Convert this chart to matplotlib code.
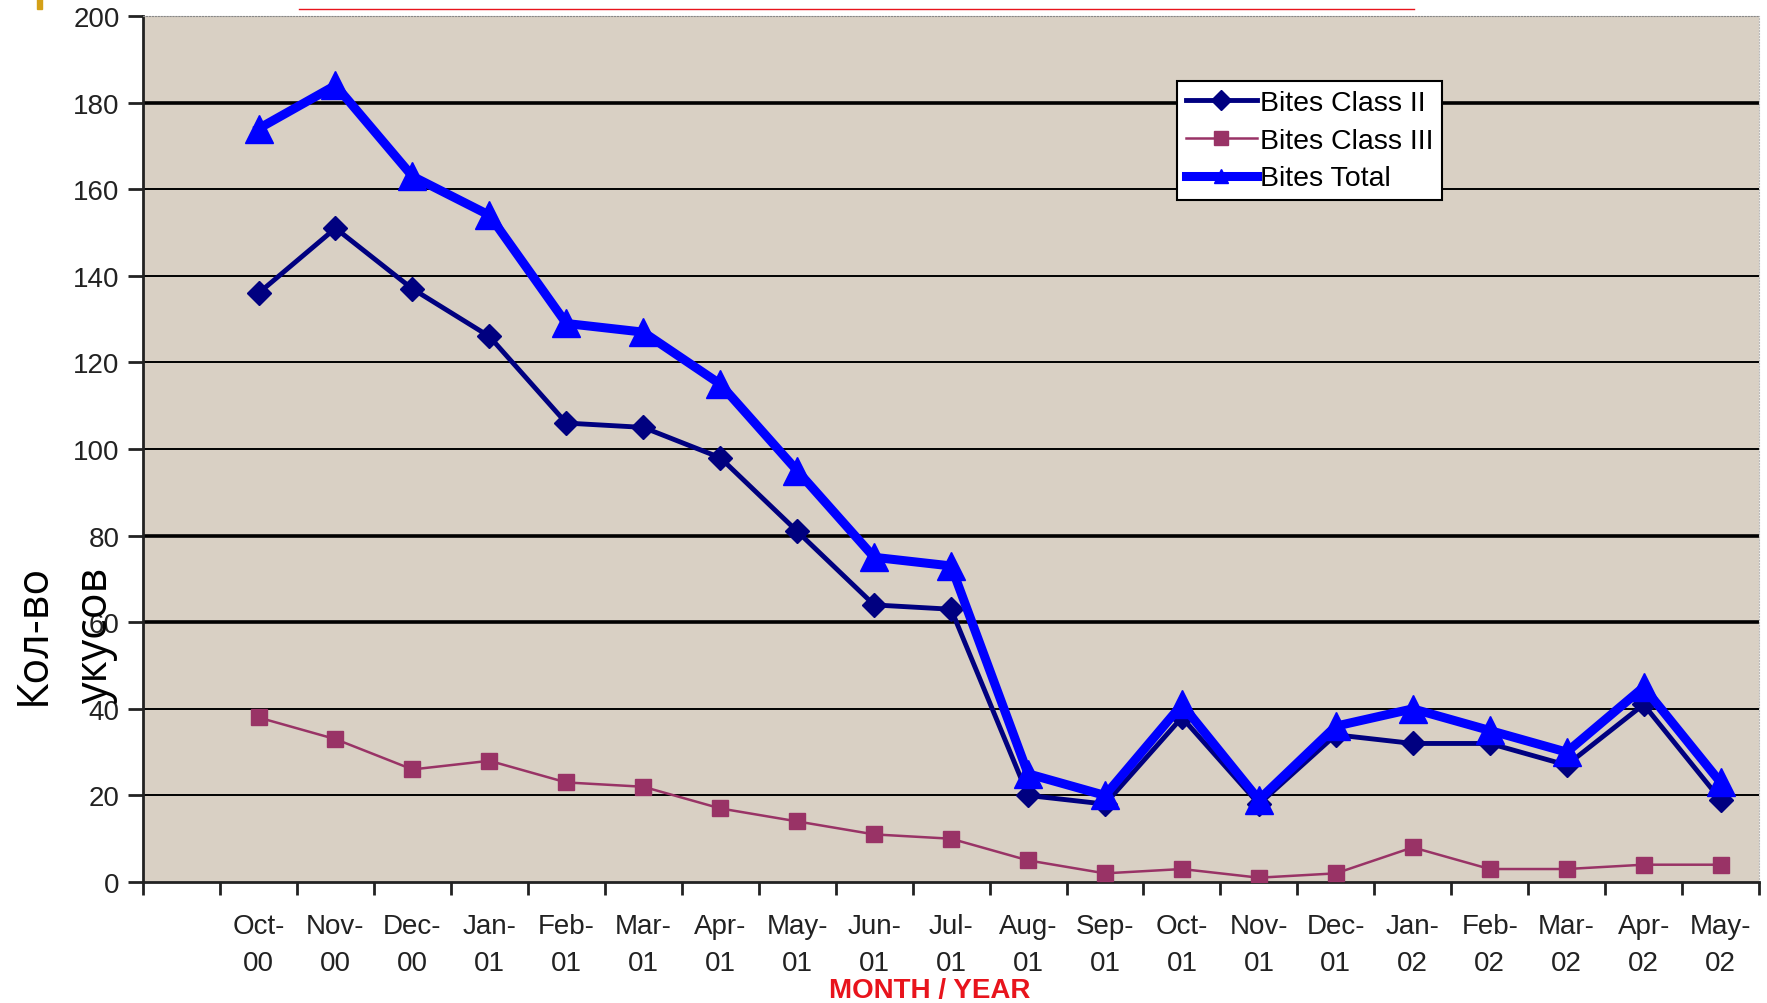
import numpy as np
import matplotlib.pyplot as plt
from matplotlib.lines import Line2D
from matplotlib.patches import Rectangle

plt.rcParams['font.family'] = ['Liberation Sans', 'DejaVu Sans']

# Data (first slot on the axis is empty)
months = ["", "Oct-\n00", "Nov-\n00", "Dec-\n00", "Jan-\n01", "Feb-\n01", "Mar-\n01",
          "Apr-\n01", "May-\n01", "Jun-\n01", "Jul-\n01", "Aug-\n01", "Sep-\n01",
          "Oct-\n01", "Nov-\n01", "Dec-\n01", "Jan-\n02", "Feb-\n02", "Mar-\n02",
          "Apr-\n02", "May-\n02"]
bites_class2 = [136, 151, 137, 126, 106, 105, 98, 81, 64, 63,
                20, 18, 38, 18, 34, 32, 32, 27, 41, 19]
bites_class3 = [38, 33, 26, 28, 23, 22, 17, 14, 11, 10,
                5, 2, 3, 1, 2, 8, 3, 3, 4, 4]
bites_total = [174, 184, 163, 154, 129, 127, 115, 95, 75, 73,
               25, 20, 41, 19, 36, 40, 35, 30, 45, 23]
y_ticks = [0, 20, 40, 60, 80, 100, 120, 140, 160, 180, 200]

fig = plt.figure(figsize=(17.67, 10.04), dpi=100)
ax = fig.add_axes([0.081, 0.1205, 0.9145, 0.8625])
ax.set_facecolor("#d9d0c4")

x = np.arange(1, len(months))
ax.set_xlim(-0.5, len(months) - 0.5)
ax.set_ylim(0, 200)

# horizontal grid lines (some drawn heavier in the original)
for yv in y_ticks[1:-1]:
    lw = 2.6 if yv in (60, 80, 180) else 1.4
    ax.axhline(yv, color="black", linewidth=lw, zorder=1)

ax.plot(x, bites_class2, color="#000080", linewidth=3.5, marker="D",
        markersize=12, label="Bites Class II", zorder=3)
ax.plot(x, bites_class3, color="#993366", linewidth=1.8, marker="s",
        markersize=11, label="Bites Class III", zorder=3)
ax.plot(x, bites_total, color="#0000ff", linewidth=6.5, marker="^",
        markersize=20, label="Bites Total", zorder=4)

ax.set_yticks(y_ticks)
ax.tick_params(axis="y", labelsize=20, length=11, width=2, pad=6, colors="#222222")
ax.set_xticks(x)
ax.set_xticklabels(months[1:], linespacing=1.55)
ax.set_xticks(np.arange(-0.5, len(months)), minor=True)
ax.tick_params(axis="x", which="major", length=0, labelsize=20, pad=22, colors="#222222")
ax.tick_params(axis="x", which="minor", length=9, width=2, color="#222222")

for side in ("left", "bottom"):
    ax.spines[side].set_linewidth(2)
    ax.spines[side].set_color("#222222")
ax.spines["top"].set_linestyle(":")
ax.spines["top"].set_color("#888888")
ax.spines["right"].set_linestyle(":")
ax.spines["right"].set_color("#bbbbbb")

leg = ax.legend(loc="upper left", bbox_to_anchor=(0.64, 0.925), fontsize=20.5,
                frameon=True, fancybox=False, edgecolor="black", framealpha=1,
                handlelength=2.5, handletextpad=0.1, borderpad=0.3,
                labelspacing=0.42, borderaxespad=0)
leg.get_frame().set_linewidth(1.5)
for h in leg.legend_handles:
    h.set_markersize(10)

fig.text(0.526, 0.0, "MONTH / YEAR", color="#e8141c", fontsize=20,
         fontweight="bold", ha="center", va="bottom")
fig.text(0.019, 0.368, "Кол-во", rotation=90, fontsize=31, ha="center",
         va="center", family=["Open Sans", "DejaVu Sans"])
fig.text(0.054, 0.368, "укусов", rotation=90, fontsize=31, ha="center",
         va="center", family=["Open Sans", "DejaVu Sans"])

# slide decorations at the top
fig.patches.append(Rectangle((0.021, 0.99), 0.003, 0.01, transform=fig.transFigure,
                             color="#d4a017", zorder=5))
fig.lines.append(Line2D([0.169, 0.8], [0.99, 0.99], transform=fig.transFigure,
                        color="#e8141c", linewidth=1))

fig.savefig("out.png", dpi=100)
